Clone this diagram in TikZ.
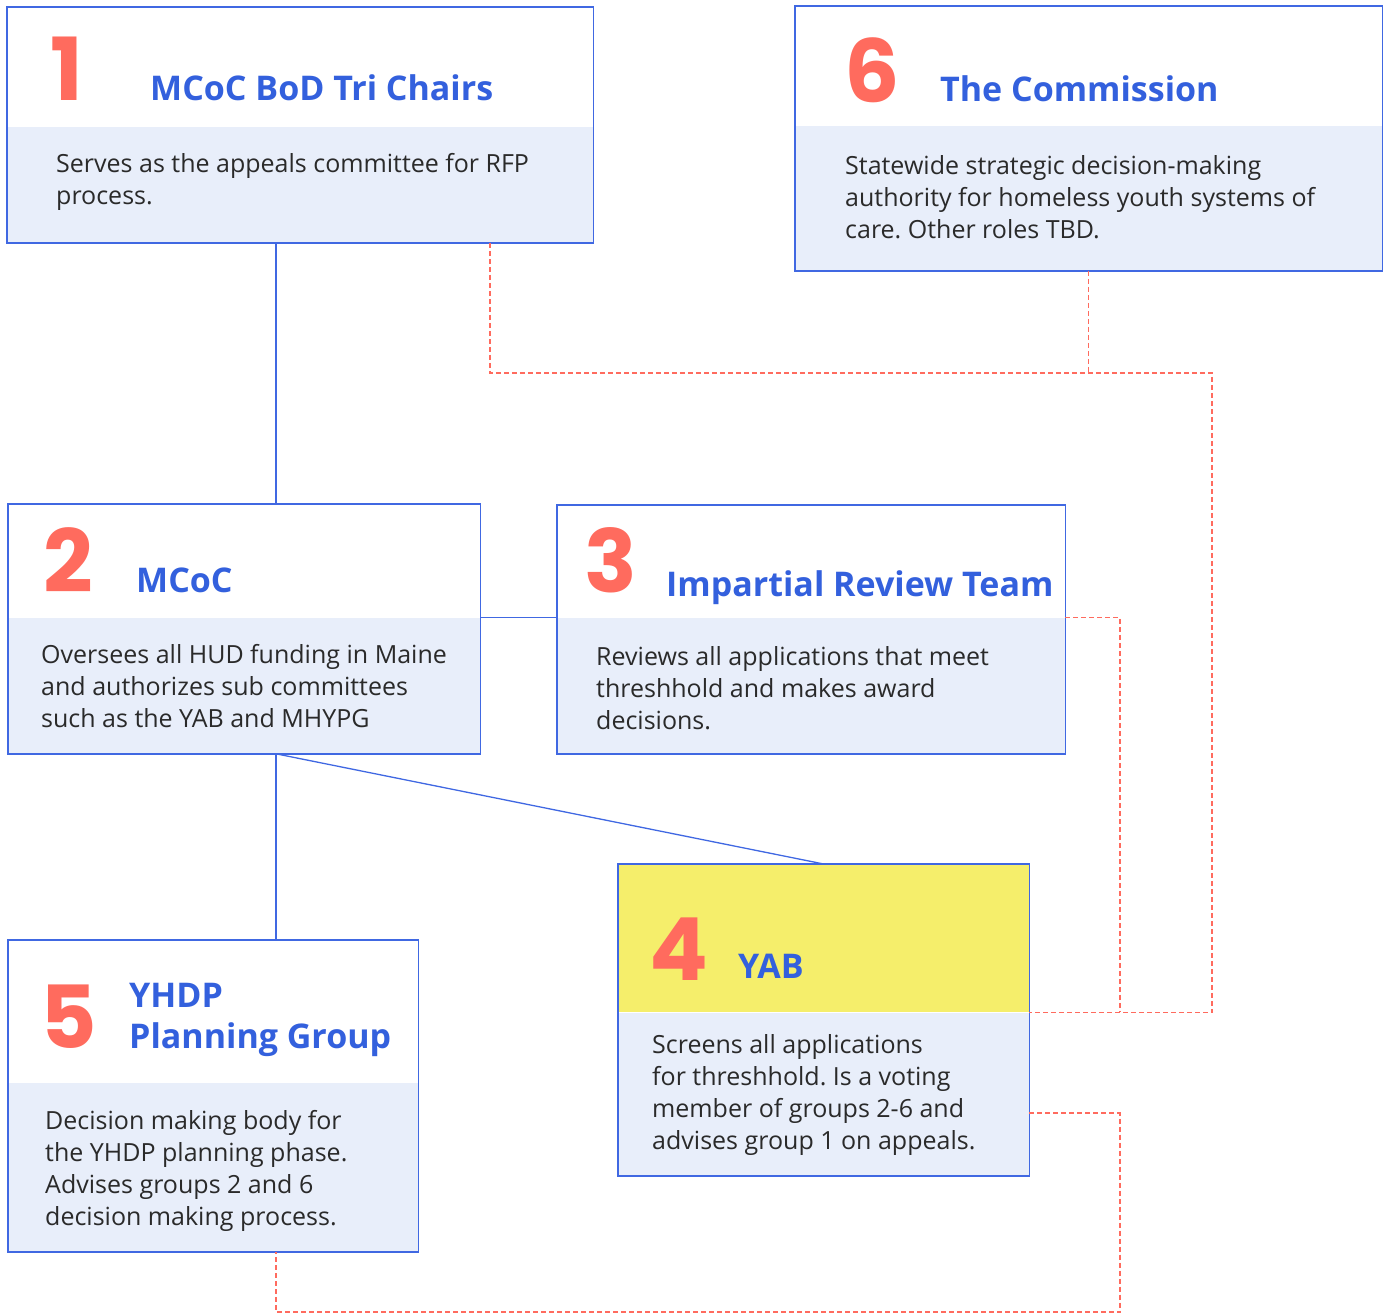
\documentclass[tikz,border=0pt]{standalone}
\usepackage{fontspec}
\setmainfont{Open Sans}
\newfontfamily\numfont{Poppins}
\usepackage{tikz}
\usetikzlibrary{positioning}
\usepackage{xcolor}
\frenchspacing

\definecolor{frameblue}{HTML}{4068E2}
\definecolor{titleblue}{HTML}{3360DD}
\definecolor{coral}{HTML}{FF6B5E}
\definecolor{paleblue}{HTML}{E8EEFA}
\definecolor{lemon}{HTML}{F5EE6B}
\definecolor{ink}{HTML}{2A2A2A}

\begin{document}
\begin{tikzpicture}[
		% GLOBAL CFG
		x=1pt, y=-1pt,
		% Styles
		head/.style={% top half of a box
			rectangle,
			fill=white,
			inner sep=0pt,
			anchor=north west,
		},
		body/.style={% lower half of a box
			rectangle,
			fill=paleblue,
			inner sep=0pt,
			anchor=north west,
		},
		frame/.style={% outline round a box
			draw=frameblue,
			line width=1.6pt,
		},
		num/.style={% big group numbers
			font=\numfont\bfseries\fontsize{87}{87}\selectfont,
			text=coral,
			anchor=base west,
			inner sep=0pt,
		},
		title/.style={% group names (base = last line)
			font=\bfseries\fontsize{34}{41}\selectfont,
			text=titleblue,
			anchor=base west,
			align=left,
			inner sep=0pt,
		},
		desc/.style={% what the group does (base = last line)
			font=\fontsize{25}{32}\selectfont,
			text=ink,
			anchor=base west,
			align=left,
			inner sep=0pt,
		},
		link/.style={% reporting lines
			draw=frameblue,
			line width=1.3pt,
		},
		advise/.style={% advisory lines
			draw=coral,
			line width=1.3pt,
			dash pattern=on 5pt off 3pt,
		},
		]
		\useasboundingbox (0,0) rectangle (1384,1315);
		
		% Columns the connectors run along
		\coordinate (trunk) at (276,0);
		\coordinate (appeal) at (490,373);
		\coordinate (railA) at (1212,0);
		\coordinate (railB) at (1120,1312);
		
		% Box 1
		\node [head, minimum width=586pt, minimum height=119pt] (h1) at (7,7) {};
		\node [body, minimum width=586pt, minimum height=116pt] (b1) at (h1.south west) {};
		\draw [frame] (h1.north west) rectangle (b1.south east);
		\node [num] (n1) at (50,100) {1};
		\node [title] (t1) at (150,100) {MCoC BoD Tri Chairs};
		\node [desc] (d1) at (56,204) {Serves as the appeals committee for RFP\\process.};
		
		% Box 6
		\node [head, minimum width=587pt, minimum height=119pt] (h6) at (795,6) {};
		\node [body, minimum width=587pt, minimum height=145pt] (b6) at (h6.south west) {};
		\draw [frame] (h6.north west) rectangle (b6.south east);
		\node [num] (n6) at (844,102) {6};
		\node [title] (t6) at (940,101) {The Commission};
		\node [desc] (d6) at (845,238) {Statewide strategic decision-making\\authority for homeless youth systems of\\care. Other roles TBD.};
		
		% Box 2
		\node [head, minimum width=472pt, minimum height=113pt] (h2) at (8,504) {};
		\node [body, minimum width=472pt, minimum height=136pt] (b2) at (h2.south west) {};
		\draw [frame] (h2.north west) rectangle (b2.south east);
		\node [num] (n2) at (43,592) {2};
		\node [title] (t2) at (136,592) {MCoC};
		\node [desc] (d2) at (41,727) {Oversees all HUD funding in Maine\\and authorizes sub committees\\such as the YAB and MHYPG};
		
		% Box 3
		\node [head, minimum width=508pt, minimum height=112pt] (h3) at (557,505) {};
		\node [body, minimum width=508pt, minimum height=136pt] (b3) at (h3.south west) {};
		\draw [frame] (h3.north west) rectangle (b3.south east);
		\node [num] (n3) at (584,592) {3};
		\node [title] (t3) at (666,596) {Impartial Review Team};
		\node [desc] (d3) at (596,729) {Reviews all applications that meet\\threshhold and makes award\\decisions.};
		
		% Box 4
		\node [head, fill=lemon, minimum width=411pt, minimum height=148pt] (h4) at (618,864) {};
		\node [body, minimum width=411pt, minimum height=163pt] (b4) at (h4.south west) {};
		\draw [frame] (h4.north west) rectangle (b4.south east);
		\node [num] (n4) at (649,980) {4};
		\node [title] (t4) at (738,978) {YAB};
		\node [desc] (d4) at (652,1149) {Screens all applications\\for threshhold. Is a voting\\member of groups 2-6 and\\advises group 1 on appeals.};
		
		% Box 5
		\node [head, minimum width=410pt, minimum height=142pt] (h5) at (8,940) {};
		\node [body, minimum width=410pt, minimum height=169pt] (b5) at (h5.south west) {};
		\draw [frame] (h5.north west) rectangle (b5.south east);
		\node [num] (n5) at (40,1048) {5};
		\node [title] (t5) at (129,1048) {YHDP\\Planning Group};
		\node [desc] (d5) at (45,1225) {Decision making body for\\the YHDP planning phase.\\Advises groups 2 and 6\\decision making process.};
		
		% Solid lines
		\draw [link] (b1.south -| trunk) -- (h2.north -| trunk);
		\draw [link] (h2.south east) -- (h2.south east -| h3.west);
		\draw [link] (b2.south -| trunk) -- (h5.north -| trunk);
		\draw [link] (b2.south -| trunk) -- (h4.north);
		
		% Dashed lines
		\draw [advise] (b1.south -| appeal) -- (appeal) -| (railA |- h4.south east) -- (h4.south east);
		\draw [advise] (b6.south) -- (b6.south |- appeal);
		\draw [advise] (h3.south east) -| (railB |- h4.south east);
		\draw [advise] ([yshift=-19pt]b4.east) -| (railB) -| (b5.south -| trunk);
		
	\end{tikzpicture}
\end{document}
